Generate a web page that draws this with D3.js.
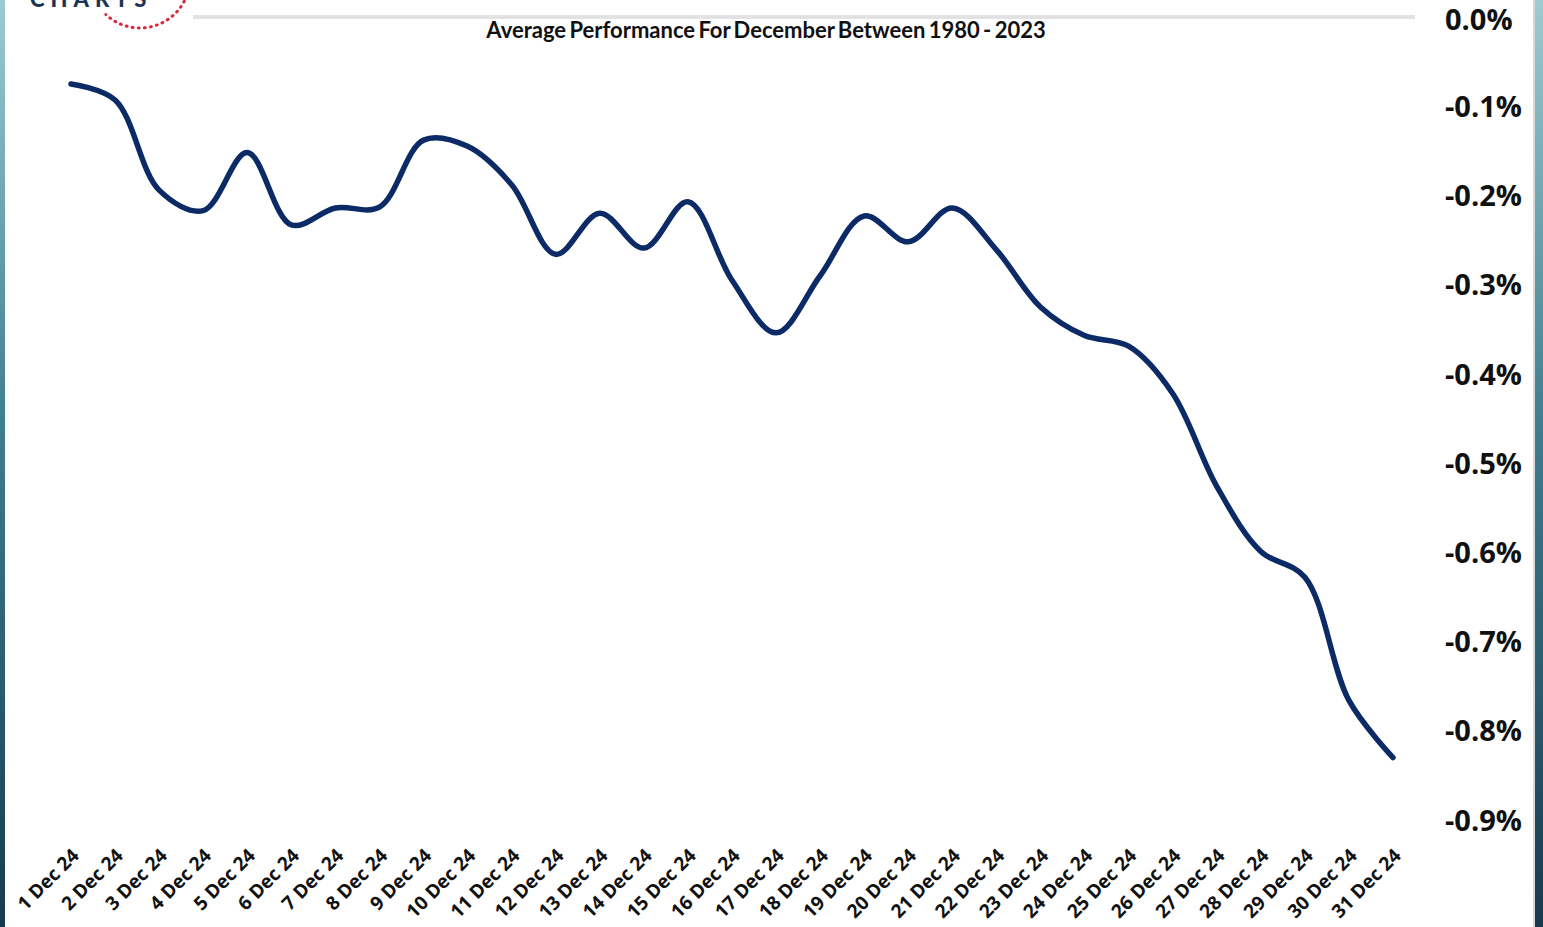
<!DOCTYPE html>
<html>
<head>
<meta charset="utf-8">
<script src="https://cdn.jsdelivr.net/npm/d3@7"></script>
<style>
  body { margin: 0; background: #fff; }
  svg { display: block; }
</style>
</head>
<body>
<svg width="1543" height="927"></svg>
<script>
// average December performance (%), one value per day
var days = d3.range(1, 32);
var dayLabels = days.map(function (d) { return d + " Dec 24"; });
var avgPerf = [-0.075, -0.093, -0.194, -0.217, -0.152, -0.233, -0.214, -0.213, -0.138, -0.145,
               -0.188, -0.266, -0.220, -0.259, -0.207, -0.295, -0.354, -0.290, -0.223, -0.252,
               -0.214, -0.261, -0.325, -0.357, -0.369, -0.422, -0.526, -0.599, -0.628, -0.766,
               -0.830];
var yTicks = [0, -0.1, -0.2, -0.3, -0.4, -0.5, -0.6, -0.7, -0.8, -0.9];

var svg = d3.select("svg");

var x = d3.scalePoint().domain(dayLabels).range([71, 1393]);
var y = d3.scaleLinear().domain([0, -0.9]).range([17, 820]);

// side strips
var defs = svg.append("defs");
var grad = defs.append("linearGradient").attr("id", "strip")
    .attr("x1", 0).attr("y1", 0).attr("x2", 0).attr("y2", 1);
grad.append("stop").attr("offset", "0%").attr("stop-color", "#9ccbd2");
grad.append("stop").attr("offset", "45%").attr("stop-color", "#3f7f90");
grad.append("stop").attr("offset", "100%").attr("stop-color", "#173a50");
svg.append("rect").attr("x", 0).attr("y", 0).attr("width", 5).attr("height", 927).attr("fill", "url(#strip)");
svg.append("rect").attr("x", 1535).attr("y", 0).attr("width", 8).attr("height", 927).attr("fill", "url(#strip)");
svg.append("rect").attr("x", 1533).attr("y", 0).attr("width", 2).attr("height", 927).attr("fill", "#d8d8d8");

// logo fragment (cut by the top edge, as in the source)
svg.append("text").attr("x", 30).attr("y", 7)
    .attr("font-family", "Lato, sans-serif").attr("font-weight", 900)
    .attr("font-size", 22).attr("letter-spacing", 6).attr("fill", "#1c3552")
    .text("CHARTS");
var arc = d3.arc().innerRadius(50).outerRadius(50).startAngle(1.95).endAngle(3.9);
svg.append("path").attr("transform", "translate(140,-22)")
    .attr("d", arc()).attr("fill", "none").attr("stroke", "#d8283c")
    .attr("stroke-width", 3).attr("stroke-dasharray", "0.1 6").attr("stroke-linecap", "round");

// top rule
svg.append("line").attr("x1", 193).attr("x2", 1415).attr("y1", y(0)).attr("y2", y(0))
    .attr("stroke", "#e2e2e2").attr("stroke-width", 4);

// title
svg.append("text").attr("x", 766).attr("y", 38).attr("text-anchor", "middle")
    .attr("font-family", "Lato, sans-serif").attr("font-weight", 700).attr("font-size", 22)
    .attr("word-spacing", -2).attr("fill", "#111")
    .text("Average Performance For December Between 1980 - 2023");

// y axis labels
var yAxis = svg.append("g").attr("transform", "translate(1445,0)")
    .call(d3.axisRight(y).tickValues(yTicks).tickSize(0).tickPadding(0)
        .tickFormat(function (d) { return (d < 0 ? "-" : "") + Math.abs(d).toFixed(1) + "%"; }));
yAxis.select(".domain").remove();
yAxis.selectAll("text").attr("font-family", "'Open Sans', sans-serif")
    .attr("font-weight", 700).attr("font-size", 29).attr("fill", "#111").attr("dy", "0.35em");
yAxis.selectAll(".tick").filter(function (d) { return d === 0; }).select("text").attr("dy", "0.42em");

// x axis labels
var xAxis = svg.append("g").attr("transform", "translate(0,848)")
    .call(d3.axisBottom(x).tickSize(0).tickPadding(0));
xAxis.select(".domain").remove();
xAxis.selectAll("text")
    .attr("font-family", "'Open Sans', sans-serif").attr("font-weight", 700).attr("font-size", 19)
    .attr("fill", "#111").attr("text-anchor", "end").attr("dy", "0.35em")
    .attr("transform", "translate(4,4) rotate(-45)");

// line
var line = d3.line()
    .x(function (d, i) { return x(dayLabels[i]); })
    .y(function (d) { return y(d); })
    .curve(d3.curveCatmullRom.alpha(0.5));
svg.append("path").datum(avgPerf).attr("d", line)
    .attr("fill", "none").attr("stroke", "#0b2a66").attr("stroke-width", 5.5)
    .attr("stroke-linecap", "round").attr("stroke-linejoin", "round");
</script>
</body>
</html>
